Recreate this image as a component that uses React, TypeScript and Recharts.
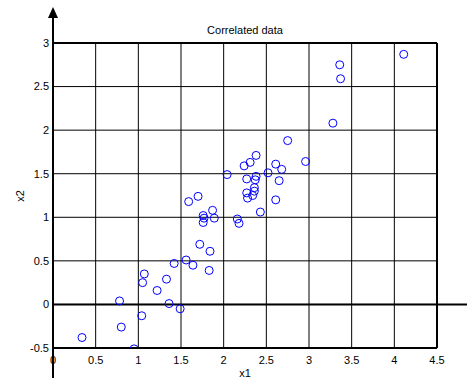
import React from 'react';
import {
  ScatterChart,
  Scatter,
  XAxis,
  YAxis,
  CartesianGrid,
  ReferenceLine,
  ReferenceDot,
} from 'recharts';

const x1Values = [
  0.34, 0.78, 0.8, 0.95, 1.04, 1.05, 1.07, 1.22, 1.33, 1.36,
  1.49, 1.42, 1.56, 1.64, 1.72, 1.83, 1.84, 1.59, 1.7, 1.76,
  1.77, 1.76, 1.87, 1.89, 2.16, 2.18, 2.43, 2.61, 2.04, 2.27,
  2.38, 2.37, 2.36, 2.36, 2.27, 2.28, 2.34, 2.24, 2.31, 2.38,
  2.52, 2.61, 2.68, 2.65, 2.75, 2.96, 4.11, 3.36, 3.37, 3.28,
];

const x2Values = [
  -0.38, 0.04, -0.26, -0.51, -0.13, 0.25, 0.35, 0.16, 0.29, 0.01,
  -0.05, 0.47, 0.51, 0.45, 0.69, 0.39, 0.61, 1.18, 1.24, 1.02,
  0.99, 0.94, 1.08, 0.99, 0.98, 0.93, 1.06, 1.2, 1.49, 1.44,
  1.47, 1.43, 1.34, 1.3, 1.28, 1.22, 1.25, 1.59, 1.63, 1.71,
  1.51, 1.61, 1.55, 1.42, 1.88, 1.64, 2.87, 2.75, 2.59, 2.08,
];

const xTicks = [0, 0.5, 1, 1.5, 2, 2.5, 3, 3.5, 4, 4.5];
const yTicks = [-0.5, 0, 0.5, 1, 1.5, 2, 2.5, 3];

const points = x1Values.map((x, i) => ({ x1: x, x2: x2Values[i] }));

const font = '"Liberation Sans", Arial, sans-serif';
const tickStyle = { fontSize: 11, fill: '#000', fontFamily: font };

// open blue circle marker
function OpenCircle(props: any) {
  const { cx, cy } = props;
  if (cx == null || cy == null) return null;
  return <circle cx={cx} cy={cy} r={4} fill="none" stroke="#0000ff" strokeWidth={1} />;
}

// arrow head on top of the y axis
function ArrowHead(props: any) {
  const { cx, cy } = props;
  if (cx == null || cy == null) return null;
  return <polygon points={`${cx},${cy - 3} ${cx - 5},${cy + 8} ${cx + 5},${cy + 8}`} fill="#000" />;
}

export default function App() {
  return (
    <div style={{ position: 'absolute', left: 0, top: 0, background: '#fff' }}>
      <ScatterChart width={467} height={378} margin={{ top: 43, right: 30, bottom: 0, left: 0 }}>
        <CartesianGrid stroke="#000" strokeWidth={1} horizontalValues={yTicks} verticalValues={xTicks} />
        <XAxis
          type="number"
          dataKey="x1"
          domain={[0, 4.5]}
          ticks={xTicks}
          height={30}
          axisLine={false}
          tickLine={false}
          tickSize={4}
          tickMargin={4}
          interval={0}
          tick={tickStyle}
          allowDataOverflow
        />
        <YAxis
          type="number"
          dataKey="x2"
          domain={[-0.5, 3]}
          ticks={yTicks}
          width={53}
          axisLine={false}
          tickLine={false}
          tickSize={2}
          tickMargin={2}
          interval={0}
          tick={tickStyle}
          allowDataOverflow
        />
        <ReferenceLine y={3} stroke="#000" strokeWidth={2} />
        <ReferenceLine y={-0.5} stroke="#000" strokeWidth={2} />
        <ReferenceLine x={4.5} stroke="#000" strokeWidth={2} />
        <ReferenceLine
          segment={[{ x: 0, y: 0 }, { x: 5, y: 0 }]}
          stroke="#000"
          strokeWidth={2}
          ifOverflow="visible"
        />
        <ReferenceLine
          segment={[{ x: 0, y: -0.9 }, { x: 0, y: 3.3 }]}
          stroke="#000"
          strokeWidth={2}
          ifOverflow="visible"
        />
        <ReferenceDot x={0} y={3.38} ifOverflow="visible" shape={ArrowHead} />
        <Scatter data={points} shape={OpenCircle} isAnimationActive={false} />
        <text x={245} y={34} textAnchor="middle" fontSize={11} fontFamily={font} fill="#000">
          Correlated data
        </text>
        <text x={245} y={377} textAnchor="middle" fontSize={11} fontFamily={font} fill="#000">
          x1
        </text>
        <text
          x={24}
          y={196}
          textAnchor="middle"
          fontSize={11}
          fontFamily={font}
          fill="#000"
          transform="rotate(-90 24 196)"
        >
          x2
        </text>
      </ScatterChart>
    </div>
  );
}
